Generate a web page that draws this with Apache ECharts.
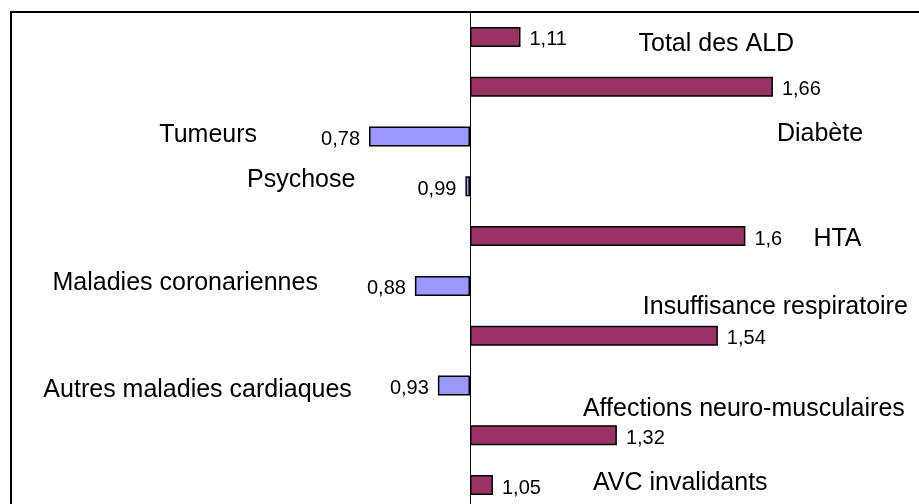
<!DOCTYPE html>
<html>
<head>
<meta charset="utf-8">
<script src="https://cdn.jsdelivr.net/npm/echarts@6/dist/echarts.min.js"></script>
<style>
  html, body { margin: 0; padding: 0; background: #fff; overflow: hidden; }
  /* le cadre du graphique déborde à droite et en bas, comme dans l'original */
  #chart { width: 935px; height: 516px; }
</style>
</head>
<body>
<div id="chart"></div>
<script>
  // catégories (de haut en bas) et ratios
  var categories = ['Total des ALD', 'Diabète', 'Tumeurs', 'Psychose', 'HTA',
    'Maladies coronariennes', 'Insuffisance respiratoire', 'Autres maladies cardiaques',
    'Affections neuro-musculaires', 'AVC invalidants'];
  var ratios = [1.11, 1.66, 0.78, 0.99, 1.6, 0.88, 1.54, 0.93, 1.32, 1.05];
  var baseline = 1;

  // décalage (px) des libellés de catégorie par rapport au bout de la barre
  var nameOffsets = [[118, 7], [4, 47], [-112, -1], [-110, -6], [68, 3],
    [-97, -3], [-75, -29], [-86, 5], [-34, -26], [100, -2]];

  var chart = echarts.init(document.getElementById('chart'));

  var valueData = ratios.map(function (v) {
    var up = v >= baseline;
    return {
      value: +(v - baseline).toFixed(4),
      itemStyle: { color: up ? '#993366' : '#9999FF' },
      label: { position: up ? 'right' : 'left' }
    };
  });

  var nameData = ratios.map(function (v, i) {
    var up = v >= baseline;
    return {
      value: +(v - baseline).toFixed(4),
      label: { position: up ? 'right' : 'left', offset: nameOffsets[i] }
    };
  });

  var option = {
    animation: false,
    textStyle: { fontFamily: 'Liberation Sans, Arial, sans-serif' },
    grid: {
      left: 11, top: 12, width: 918, height: 498,
      show: true, borderColor: '#000', borderWidth: 2, backgroundColor: '#fff'
    },
    xAxis: {
      type: 'value', min: -1, max: 1, show: false
    },
    yAxis: {
      type: 'category', data: categories, inverse: true,
      axisLine: { onZero: true, lineStyle: { color: '#000', width: 1 } },
      axisTick: { show: false },
      axisLabel: { show: false },
      splitLine: { show: false }
    },
    series: [
      {
        name: 'ratio', type: 'bar', barWidth: 20,
        data: valueData,
        itemStyle: { borderColor: '#000', borderWidth: 1.5 },
        label: {
          show: true, distance: 9, offset: [0, 3],
          color: '#000', fontSize: 20, fontFamily: 'Liberation Sans',
          formatter: function (p) { return String(ratios[p.dataIndex]).replace('.', ','); }
        },
        silent: true, z: 3
      },
      {
        name: 'libellé', type: 'bar', barWidth: 20, barGap: '-100%',
        data: nameData,
        itemStyle: { color: 'rgba(0,0,0,0)' },
        label: {
          show: true, distance: 0,
          color: '#000', fontSize: 25, fontFamily: 'Liberation Sans',
          formatter: function (p) { return categories[p.dataIndex]; }
        },
        silent: true, z: 2
      }
    ]
  };

  chart.setOption(option);
</script>
</body>
</html>
